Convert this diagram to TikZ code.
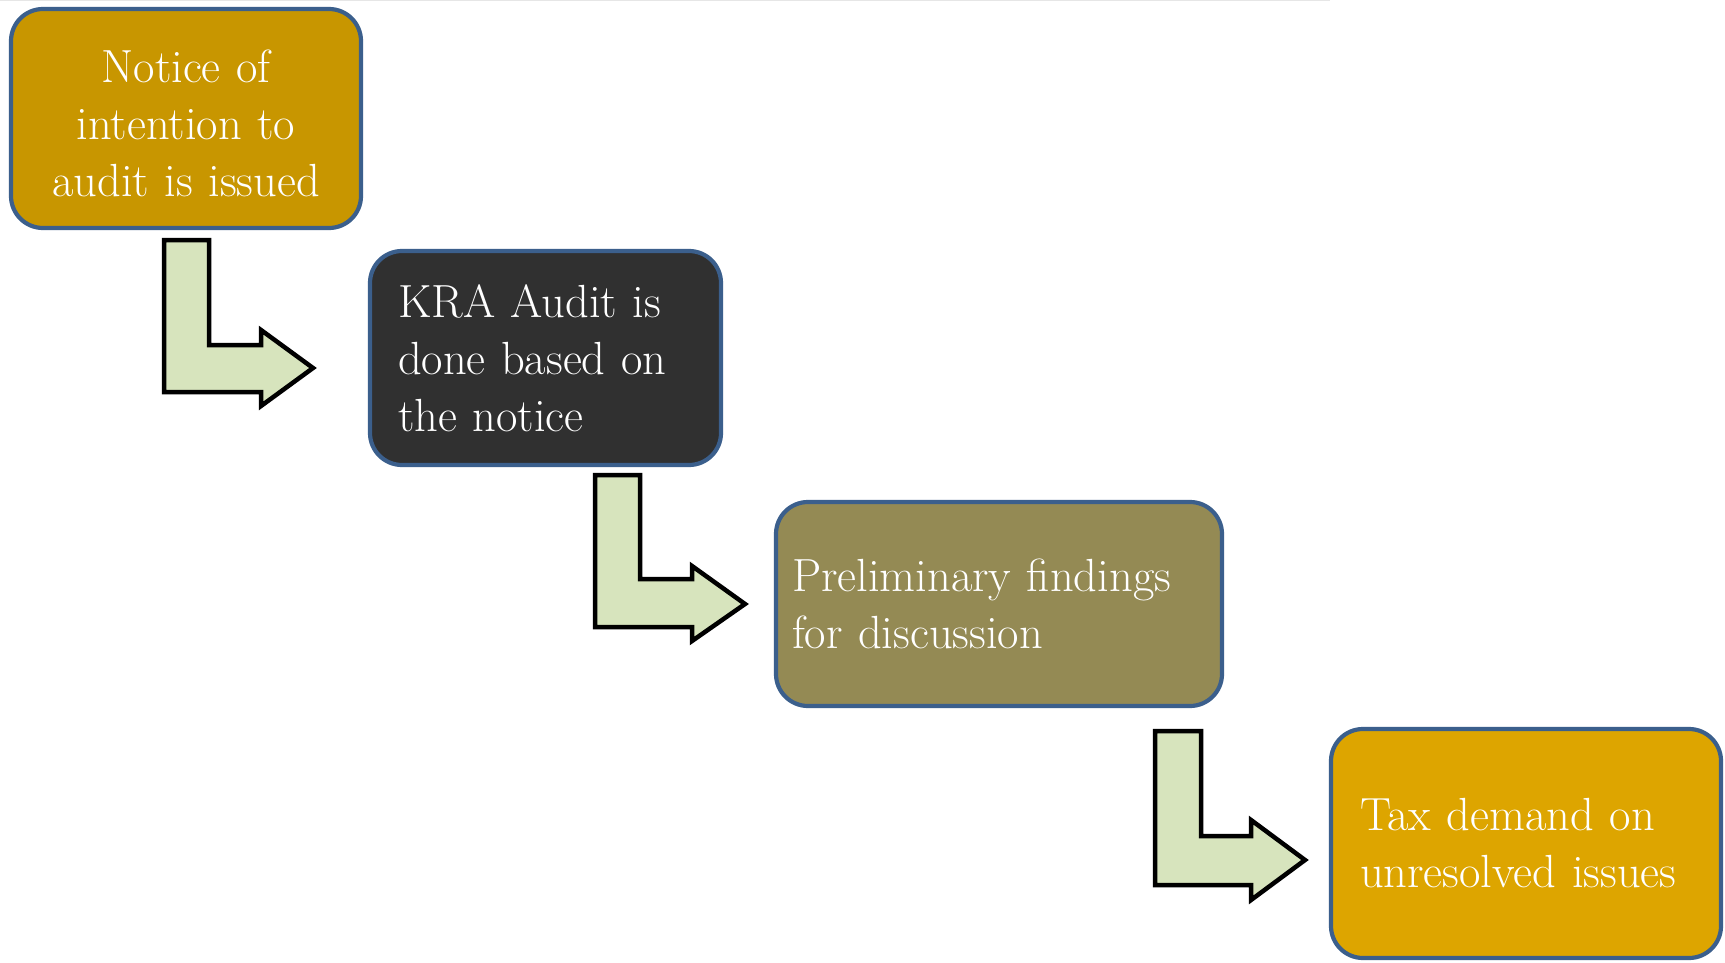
\documentclass[tikz,border=0pt]{standalone}
\usepackage{fontspec}
\definecolor{boxborder}{HTML}{3B5F8C}
\definecolor{gold}{HTML}{C89600}
\definecolor{dark}{HTML}{303030}
\definecolor{olive}{HTML}{948A54}
\definecolor{amber}{HTML}{DDA500}
\definecolor{arrowfill}{HTML}{D7E4BD}
\definecolor{topline}{HTML}{E6E6E6}
\begin{document}
\begin{tikzpicture}[x=1pt,y=-1pt,
  stepbox/.style={draw=boxborder, line width=4.2pt, rounded corners=32pt,
    text=white, font=\fontsize{46.5}{57}\selectfont, inner ysep=0pt, anchor=center},
  bentarrow/.style={draw=black, line width=4.5pt, fill=arrowfill, line join=miter}]
\useasboundingbox (0,0) rectangle (1725,963);
\fill[white] (0,0) rectangle (1725,963);
\draw[topline, line width=1.5pt] (0,0.75) -- (1330,0.75);

\node[stepbox, fill=gold, minimum width=350pt, minimum height=219pt,
  text width=330pt, inner xsep=10pt, align=center] (n1) at (186,118.5)
  {\rule{0pt}{43pt}Notice of\\intention to\\audit is issued};
\node[stepbox, fill=dark, minimum width=351pt, minimum height=214pt,
  text width=295pt, inner xsep=28pt, align=left] (n2) at (545.5,358)
  {KRA Audit is\\done based on\\the notice};
\node[stepbox, fill=olive, minimum width=446pt, minimum height=204pt,
  text width=414pt, inner xsep=16pt, align=left] (n3) at (999,604)
  {Preliminary findings\\for discussion};
\node[stepbox, fill=amber, minimum width=390pt, minimum height=229pt,
  text width=332pt, inner xsep=29pt, align=left] (n4) at (1526,843.5)
  {Tax demand on\\unresolved issues};

% bent block arrows between the steps
\draw[bentarrow] (164,240) -- (209,240) -- (209,345) -- (261,345) -- (261,330)
  -- (313,368) -- (261,406) -- (261,392) -- (164,392) -- cycle;
\draw[bentarrow] (595,475) -- (640,475) -- (640,579) -- (692,579) -- (692,566)
  -- (745,604) -- (692,641) -- (692,627) -- (595,627) -- cycle;
\draw[bentarrow] (1155,731) -- (1201,731) -- (1201,836) -- (1251,836) -- (1251,820)
  -- (1305,860) -- (1251,900) -- (1251,885) -- (1155,885) -- cycle;
\end{tikzpicture}
\end{document}
